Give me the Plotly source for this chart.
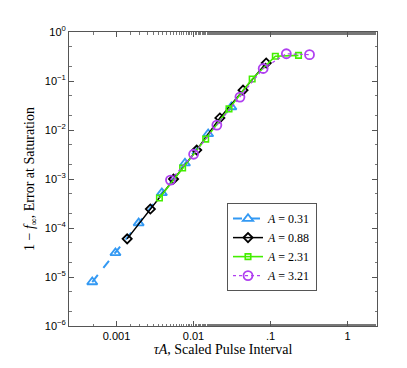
import plotly.graph_objects as go

# tau*A (x) and 1 - f_inf (y)
x_a031 = [0.000484, 0.000969, 0.00194, 0.00388, 0.00775, 0.0155, 0.031]
y_a031 = [7.9e-6, 3.1e-5, 1.26e-4, 5.2e-4, 2.1e-3, 8.3e-3, 2.95e-2]

x_a088 = [0.001375, 0.00275, 0.0055, 0.011, 0.022, 0.044, 0.088]
y_a088 = [6.0e-5, 2.44e-4, 1.0e-3, 3.9e-3, 1.76e-2, 6.5e-2, 0.233]

x_a231 = [0.00361, 0.00722, 0.0144, 0.0289, 0.0578, 0.1155, 0.231]
y_a231 = [4.1e-4, 1.68e-3, 6.5e-3, 2.7e-2, 0.11, 0.32, 0.333]

x_a321 = [0.00502, 0.01003, 0.0201, 0.0401, 0.0803, 0.1605, 0.321]
y_a321 = [9.5e-4, 3.2e-3, 1.26e-2, 4.7e-2, 0.18, 0.36, 0.345]

labels = ["<i>A</i> = 0.31", "<i>A</i> = 0.88", "<i>A</i> = 2.31", "<i>A</i> = 3.21"]

xtick_vals = [0.001, 0.01, 0.1, 1]
xtick_text = ["0.001", "0.01", ".1", "1"]
ytick_vals = [1e-6, 1e-5, 1e-4, 1e-3, 1e-2, 1e-1, 1]
ytick_text = ["10<sup>−6</sup>", "10<sup>−5</sup>", "10<sup>−4</sup>", "10<sup>−3</sup>",
              "10<sup>−2</sup>", "10<sup>−1</sup>", "10<sup>0</sup>"]

blue = "#3399f3"
green = "#44ee00"
purple = "#b040f0"

fig = go.Figure()
fig.add_trace(go.Scatter(x=x_a031, y=y_a031, name=labels[0], mode="lines+markers",
                         line=dict(color=blue, width=2, dash="dash"),
                         marker=dict(symbol="triangle-up-open", size=9, color=blue, line=dict(width=1.8))))
fig.add_trace(go.Scatter(x=x_a088, y=y_a088, name=labels[1], mode="lines+markers",
                         line=dict(color="black", width=1.5),
                         marker=dict(symbol="diamond-open", size=7, color="black", line=dict(width=1.8))))
fig.add_trace(go.Scatter(x=x_a231, y=y_a231, name=labels[2], mode="lines+markers",
                         line=dict(color=green, width=1.6),
                         marker=dict(symbol="square-open", size=5.5, color=green, line=dict(width=1.6))))
fig.add_trace(go.Scatter(x=x_a321, y=y_a321, name=labels[3], mode="lines+markers",
                         line=dict(color=purple, width=1.2, dash="dot"),
                         marker=dict(symbol="circle-open", size=9, color=purple, line=dict(width=1.8))))

axis_common = dict(type="log", showgrid=False, zeroline=False, showline=True,
                   linecolor="#555555", linewidth=1, mirror="ticks",
                   ticks="inside", ticklen=5, tickcolor="#555555",
                   tickfont=dict(family="Liberation Sans, Arial, sans-serif", size=11, color="black"),
                   minor=dict(ticks="inside", ticklen=2.5, tickcolor="#777777"))

fig.update_xaxes(**axis_common, range=[-3.617, 0.383], tickvals=xtick_vals, ticktext=xtick_text,
                 title=dict(text="<i>τA</i>, Scaled Pulse Interval", standoff=2,
                            font=dict(family="Liberation Serif, DejaVu Serif, serif", size=14, color="black")))
fig.update_yaxes(**axis_common, range=[-6, 0], tickvals=ytick_vals, ticktext=ytick_text,
                 title=dict(text="1 − <i>f</i><sub>∞</sub>, Error at Saturation", standoff=6,
                            font=dict(family="Liberation Serif, DejaVu Serif, serif", size=14, color="black")))

fig.update_layout(
    width=407, height=368,
    margin=dict(l=61, r=38, t=24, b=50),
    paper_bgcolor="white", plot_bgcolor="white",
    showlegend=True,
    legend=dict(x=0.513, y=0.418, xanchor="left", yanchor="top",
                bgcolor="white", bordercolor="#555555", borderwidth=1,
                font=dict(family="Liberation Serif, DejaVu Serif, serif", size=12, color="black"),
                tracegroupgap=0, itemwidth=30),
)

fig.write_html("out.html")
